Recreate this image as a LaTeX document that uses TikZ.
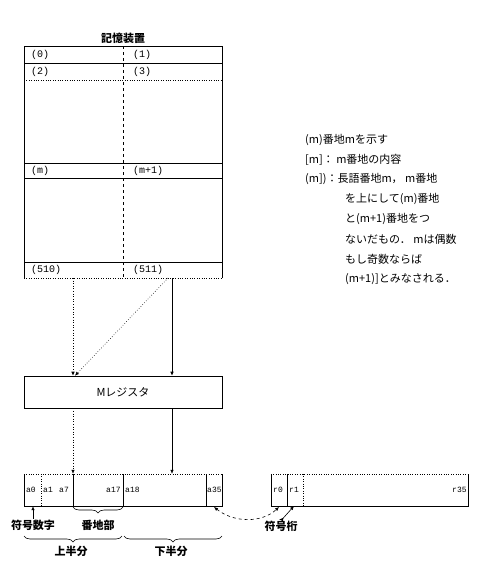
\documentclass[tikz,border=0pt]{standalone}
\usepackage{fontspec}
\setmonofont{Liberation Mono}
\newfontfamily\jpfont{Noto Sans CJK JP}
\usetikzlibrary{arrows.meta,positioning,decorations.pathreplacing}
\tikzset{
  mem/line/.style={draw=black, line width=0.6pt},
  mem/cell/.style={font=\fontsize{10}{12}\ttfamily, anchor=west, inner sep=0pt},
  mem/bit/.style={font=\fontsize{8}{10}\ttfamily, anchor=west, inner sep=0pt},
  mem/jp/.style={font=\fontsize{11}{13}\jpfont\bfseries, inner sep=1pt},
  mem/note/.style={font=\fontsize{11}{13}\jpfont, anchor=west, inner sep=0pt},
  mem/arrow/.style={-{Latex[length=4pt,width=3.5pt]}, line width=0.6pt},
  mem/both/.style={{Latex[length=4pt,width=3.5pt]}-{Latex[length=4pt,width=3.5pt]}, line width=0.6pt},
  mem/brace/.style={decorate, decoration={brace, mirror, amplitude=6pt}, line width=0.6pt},
}
\begin{document}
\begin{tikzpicture}[x=1pt, y=-1pt]
\useasboundingbox (0,0) rectangle (499,576);
% memory
\node[minimum width=198pt, minimum height=232pt, anchor=north west, inner sep=0pt] (mem) at (24,46) {};
\node[mem/jp, above=1pt of mem] (title) {記憶装置};
\draw[mem/line] (mem.south west) -- (mem.north west) -- (mem.north east) -- (mem.south east);
\draw[dotted] (mem.south west) -- (mem.south east);
\foreach \y in {63,163,178,262}
  \draw[mem/line] (24,\y) -- (222,\y);
\draw[dotted] (24,80) -- (222,80);
\draw[dashed] (mem.north) -- (mem.south);
\node[mem/cell] (c0) at (31,55) {(0)};
\node[mem/cell] (c1) at (133,55) {(1)};
\node[mem/cell] (c2) at (31,72) {(2)};
\node[mem/cell] (c3) at (133,72) {(3)};
\node[mem/cell] (cm) at (31,171) {(m)};
\node[mem/cell] (cm1) at (133,171) {(m+1)};
\node[mem/cell] (c510) at (31,270) {(510)};
\node[mem/cell] (c511) at (133,270) {(511)};
% M register
\node[draw, mem/jp, font=\fontsize{11}{13}\jpfont, minimum width=198pt, minimum height=32pt, inner sep=0pt, line width=0.6pt] (mreg) at (123,392) {Mレジスタ};
\coordinate (m0) at (73,278);
\coordinate (m1) at (172,278);
\coordinate (m1d) at (168,278);
\draw[mem/arrow, dotted] (m0) -- (m0 |- mreg.north);
\draw[mem/arrow] (m1) -- (m1 |- mreg.north);
\draw[mem/arrow, dotted] (m1d) -- ([xshift=2pt]m0 |- mreg.north);
% words
\node[minimum width=198pt, minimum height=32pt, inner sep=0pt] (wa) at (123,490) {};
\draw[mem/line] (wa.north west) -- (wa.south west) -- (wa.south east) -- (wa.north east);
\draw[dotted] (wa.north west) -- (wa.north east);
\draw[dotted] (41,474) -- (41,506);
\foreach \x in {73,123,206}
  \draw[mem/line] (\x,474) -- (\x,506);
\draw[mem/arrow, dotted] (mreg.south -| m0) -- (wa.north -| m0);
\draw[mem/arrow] (mreg.south -| m1) -- (wa.north -| m1);
\node[mem/bit] (a0) at (26,490) {a0};
\node[mem/bit] (a1) at (43,490) {a1};
\node[mem/bit] (a7) at (59,490) {a7};
\node[mem/bit] (a17) at (106,490) {a17};
\node[mem/bit] (a18) at (125,490) {a18};
\node[mem/bit] (a35) at (207,490) {a35};
\node[minimum width=197pt, minimum height=32pt, inner sep=0pt] (wr) at (369.5,490) {};
\draw[mem/line] (wr.north west) -- (wr.south west) -- (wr.south east) -- (wr.north east);
\draw[dotted] (wr.north west) -- (wr.north east);
\draw[mem/line] (287,474) -- (287,506);
\draw[dotted] (303,474) -- (303,506);
\node[mem/bit] (r0) at (273,490) {r0};
\node[mem/bit] (r1) at (289,490) {r1};
\node[mem/bit] (r35) at (452,490) {r35};
% labels under the words
\node[mem/jp] (sign) at (33,525) {符号数字};
\draw[mem/arrow] (sign.north) -- (sign.north |- wa.south);
\draw[mem/brace] (73,507) -- (123,507);
\node[mem/jp] (addr) at (98,525) {番地部};
\draw[mem/brace] (24,536) -- (122,536);
\draw[mem/brace] (124,536) -- (222,536);
\node[mem/jp] (upper) at (71,551) {上半分};
\node[mem/jp] (lower) at (171,551) {下半分};
\node[mem/jp] (sdig) at (281,526) {符号桁};
\coordinate (sa) at (214,507);
\coordinate (sr) at (279,507);
\draw[mem/both, dashed] (sa) .. controls (234,523) and (262,523) .. (sr);
\draw[mem/arrow] (sdig.north) -- (sdig.north -| sr);
\draw[mem/arrow] ([xshift=1pt]sdig.north) -- (294,506);
% notes
\node[mem/note] (n1) at (305,140) {(m)番地mを示す};
\node[mem/note] (n2) at (305,160) {[m]： m番地の内容};
\node[mem/note] (n3) at (305,179) {(m])：長語番地m， m番地};
\node[mem/note] (n4) at (345,199) {を上にして(m)番地};
\node[mem/note] (n5) at (345,219) {と(m+1)番地をつ};
\node[mem/note] (n6) at (345,239) {ないだもの． mは偶数};
\node[mem/note] (n7) at (345,259) {もし奇数ならば};
\node[mem/note] (n8) at (345,279) {(m+1)]とみなされる．};
\end{tikzpicture}
\end{document}
